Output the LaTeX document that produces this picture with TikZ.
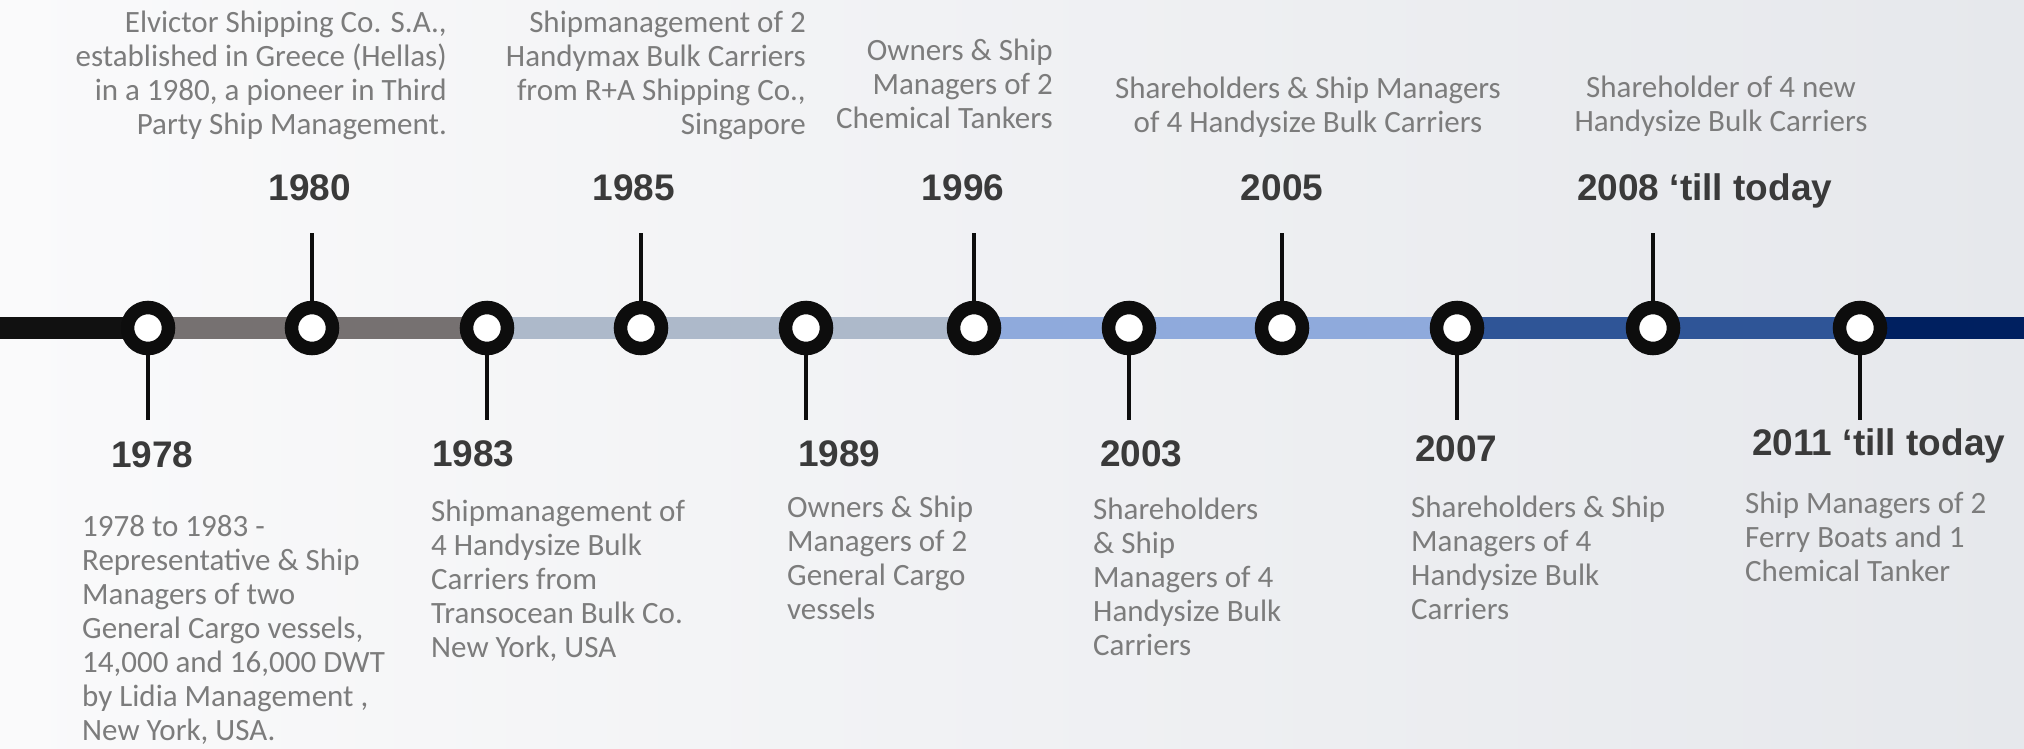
\documentclass[tikz,border=0pt]{standalone}
\usepackage{fontspec}
\setmainfont{Carlito}
\newfontfamily\yearfont{Liberation Sans}
\definecolor{desccol}{HTML}{7C7C7C}
\definecolor{yearcol}{HTML}{3A3A3A}
\definecolor{ringcol}{HTML}{0D0D0D}
\definecolor{segA}{HTML}{111111}
\definecolor{segB}{HTML}{767171}
\definecolor{segC}{HTML}{ADB9CA}
\definecolor{segD}{HTML}{8FAADC}
\definecolor{segE}{HTML}{2F5597}
\definecolor{segF}{HTML}{002060}
\definecolor{bgleft}{HTML}{FAFAFB}
\definecolor{bgright}{HTML}{E6E8EC}
\begin{document}
\begin{tikzpicture}[x=1pt,y=-1pt,
  desc/.style={font=\fontsize{31}{34}\selectfont, text=desccol, inner sep=0pt},
  yearlbl/.style={font=\yearfont\bfseries\fontsize{37}{40}\selectfont, text=yearcol, inner sep=0pt},
  ring/.style={circle, draw=ringcol, line width=13.5pt, fill=white, minimum size=41pt, inner sep=0pt},
  stem/.style={line width=4.5pt, draw=ringcol},
  barseg/.style={line width=22pt}]
\useasboundingbox (0,0) rectangle (2024,748);
\shade[left color=bgleft, right color=bgright] (0,0) rectangle (2024,748);
% positions on the line
\coordinate (lstart) at (0,328);
\coordinate (rend) at (2024,328);
\coordinate (p1978) at (148,328);
\coordinate (p1980) at (312,328);
\coordinate (p1983) at (487,328);
\coordinate (p1985) at (641,328);
\coordinate (p1989) at (806,328);
\coordinate (p1996) at (974,328);
\coordinate (p2003) at (1129,328);
\coordinate (p2005) at (1282,328);
\coordinate (p2007) at (1457,328);
\coordinate (p2008) at (1653,328);
\coordinate (p2011) at (1860,328);
% bar segments
\draw[barseg, segA] (lstart) -- (p1978);
\draw[barseg, segB] (p1978) -- (p1983);
\draw[barseg, segC] (p1983) -- (p1996);
\draw[barseg, segD] (p1996) -- (p2007);
\draw[barseg, segE] (p2007) -- (p2011);
\draw[barseg, segF] (p2011) -- (rend);
% stem ends
\coordinate (s1980) at (312,233);
\coordinate (s1985) at (641,233);
\coordinate (s1996) at (974,233);
\coordinate (s2005) at (1282,233);
\coordinate (s2008) at (1653,233);
\coordinate (s1978) at (148,420);
\coordinate (s1983) at (487,420);
\coordinate (s1989) at (806,420);
\coordinate (s2003) at (1129,420);
\coordinate (s2007) at (1457,420);
\coordinate (s2011) at (1860,420);
\foreach \y in {1978,1980,1983,1985,1989,1996,2003,2005,2007,2008,2011}{
  \draw[stem] (p\y) -- (s\y);
}
% rings
\foreach \y in {1978,1980,1983,1985,1989,1996,2003,2005,2007,2008,2011}{
  \node[ring] (r\y) at (p\y) {};
}
% year labels
\node[yearlbl, anchor=base] (y1980) at (310,200) {1980};
\node[yearlbl, anchor=base] (y1985) at (634,200) {1985};
\node[yearlbl, anchor=base] (y1996) at (963,200) {1996};
\node[yearlbl, anchor=base] (y2005) at (1282,200) {2005};
\node[yearlbl, anchor=base west] (y2008) at (1577,200) {2008 ‘till today};
\node[yearlbl, anchor=base west] (y1978) at (111,467) {1978};
\node[yearlbl, anchor=base west] (y1983) at (432,466) {1983};
\node[yearlbl, anchor=base west] (y1989) at (798,466) {1989};
\node[yearlbl, anchor=base west] (y2003) at (1100,466) {2003};
\node[yearlbl, anchor=base west] (y2007) at (1415,461) {2007};
\node[yearlbl, anchor=base west] (y2011) at (1752,455) {2011 ‘till today};
% descriptions (anchored at the baseline of the last line)
\node[desc, align=right, anchor=base east] (d1980) at (447,134)
  {Elvictor Shipping Co. S.A.,\\established in Greece (Hellas)\\in a 1980, a pioneer in Third\\Party Ship Management.};
\node[desc, align=right, anchor=base east] (d1985) at (806,134)
  {Shipmanagement of 2\\Handymax Bulk Carriers\\from R+A Shipping Co.,\\Singapore};
\node[desc, align=right, anchor=base east] (d1996) at (1053,128)
  {Owners \& Ship\\Managers of 2\\Chemical Tankers};
\node[desc, align=center, anchor=base] (d2005) at (1308,132)
  {Shareholders \& Ship Managers\\of 4 Handysize Bulk Carriers};
\node[desc, align=center, anchor=base] (d2008) at (1721,131)
  {Shareholder of 4 new\\Handysize Bulk Carriers};
\node[desc, align=left, anchor=base west] (d1978) at (82,740)
  {1978 to 1983 -\\Representative \& Ship\\Managers of two\\General Cargo vessels,\\14,000 and 16,000 DWT\\by Lidia Management ,\\New York, USA.};
\node[desc, align=left, anchor=base west] (d1983) at (431,657)
  {Shipmanagement of\\4 Handysize Bulk\\Carriers from\\Transocean Bulk Co.\\New York, USA};
\node[desc, align=left, anchor=base west] (d1989) at (787,619)
  {Owners \& Ship\\Managers of 2\\General Cargo\\vessels};
\node[desc, align=left, anchor=base west] (d2003) at (1093,655)
  {Shareholders\\\& Ship\\Managers of 4\\Handysize Bulk\\Carriers};
\node[desc, align=left, anchor=base west] (d2007) at (1411,619)
  {Shareholders \& Ship\\Managers of 4\\Handysize Bulk\\Carriers};
\node[desc, align=left, anchor=base west] (d2011) at (1745,581)
  {Ship Managers of 2\\Ferry Boats and 1\\Chemical Tanker};
\end{tikzpicture}
\end{document}
